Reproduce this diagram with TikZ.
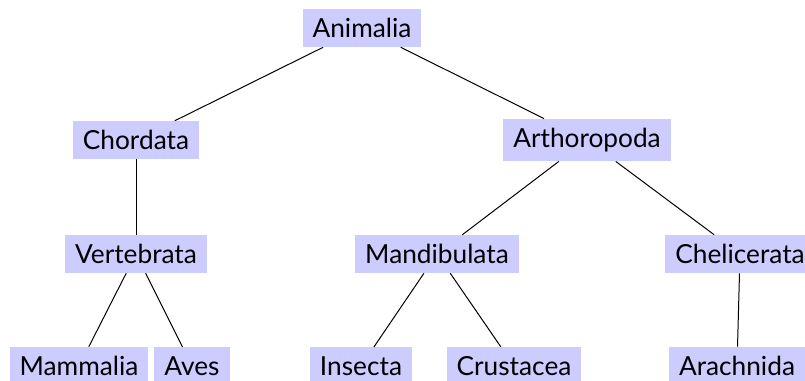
\documentclass[tikz,border=0pt]{standalone}
\usepackage{fontspec}
\setmainfont{Lato}
\tikzset{taxon/.style={fill=blue!20, inner xsep=4pt, inner ysep=3.6pt,
    font=\fontsize{10.5}{12.6}\selectfont}}

\begin{document}
\begin{tikzpicture}[x=0.4pt,y=-0.4pt]
    \useasboundingbox (0,0) rectangle (805,380);
    % level 0 and 1
    \node[taxon] (anim) at (362,28) {Animalia};
    \node[taxon] (chor) at (136,140) {Chordata};
    \node[taxon] (arth) at (587,140) {Arthoropoda};
    % level 2
    \node[taxon] (vert) at (136,254) {Vertebrata};
    \node[taxon] (mand) at (437,254) {Mandibulata};
    \node[taxon] (chel) at (740,254) {Chelicerata};
    % level 3
    \node[taxon] (mamm) at (79,366) {Mammalia};
    \node[taxon] (aves) at (192,366) {Aves};
    \node[taxon] (inse) at (361,366) {Insecta};
    \node[taxon] (crus) at (514,366) {Crustacea};
    \node[taxon] (arac) at (737,366) {Arachnida};
    \draw (anim) -- (chor);
    \draw (anim) -- (arth);
    \draw (chor) -- (vert);
    \draw (arth) -- (mand);
    \draw (arth) -- (chel);
    \draw (vert) -- (mamm);
    \draw (vert) -- (aves);
    \draw (mand) -- (inse);
    \draw (mand) -- (crus);
    \draw (chel) -- (arac);
\end{tikzpicture}
\end{document}
